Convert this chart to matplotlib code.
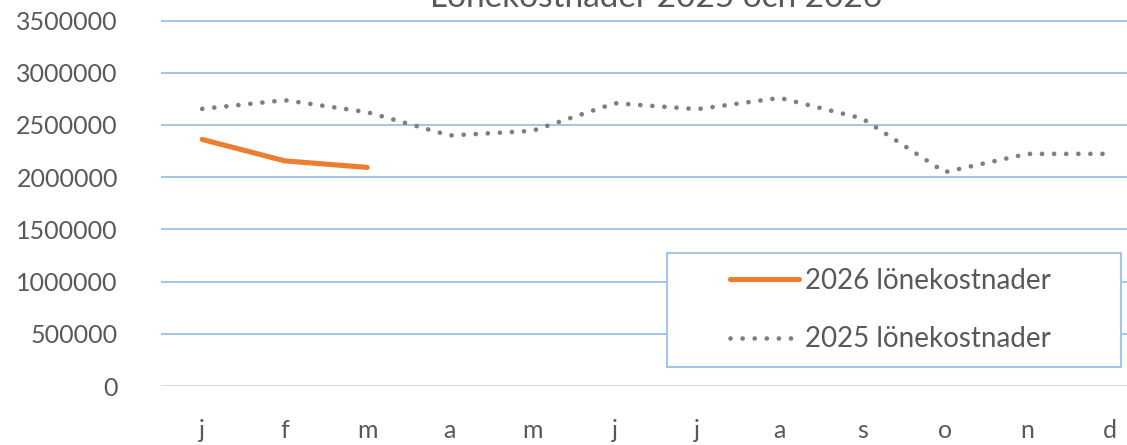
import matplotlib
matplotlib.use("Agg")
import matplotlib.pyplot as plt
from matplotlib.patches import Rectangle

plt.rcParams['font.family'] = ['Lato', 'DejaVu Sans']

months = ['j', 'f', 'm', 'a', 'm', 'j', 'j', 'a', 's', 'o', 'n', 'd']
cost_2026 = [2361000, 2156000, 2093000]
cost_2025 = [2654000, 2737000, 2622000, 2399000, 2443000, 2708000,
             2651000, 2759000, 2562000, 2048000, 2223000, 2223000]
yticks = [0, 500000, 1000000, 1500000, 2000000, 2500000, 3000000, 3500000]

W, H = 1127, 445
fig = plt.figure(figsize=(W / 100, H / 100), dpi=100)
# axes run a little past the right edge, as in the screenshot
ax = fig.add_axes([161 / W, (H - 386) / H, 990 / W, 365.5 / H])

txt = '#595959'
grid = '#A4C6E8'

x = list(range(len(months)))
ax.plot(x[:len(cost_2026)], cost_2026, color='#ED7D31', lw=3.7,
        solid_capstyle='round', solid_joinstyle='round', label='2026 lönekostnader', zorder=3)
ax.plot(x, cost_2025, color='#7F7F7F', lw=3.4, linestyle=(0, (0.01, 2.55)),
        dash_capstyle='round', label='2025 lönekostnader', zorder=3)

ax.set_xlim(-0.5, 11.5)
ax.set_ylim(0, 3500000)
ax.set_yticks(yticks)
ax.set_yticklabels([str(v) for v in yticks])
ax.set_xticks(x)
ax.set_xticklabels(months)
for y in yticks[1:]:
    ax.axhline(y, color=grid, lw=1.5, zorder=1)
ax.axhline(0, color='#D9D9D9', lw=1.5, zorder=1)
for s in ax.spines.values():
    s.set_visible(False)
ax.tick_params(axis='both', length=0, labelsize=18, colors=txt)
ax.tick_params(axis='y', pad=31)
ax.tick_params(axis='x', pad=24)

fig.text(656 / W, 1 - 7 / H, 'Lönekostnader 2025 och 2026', ha='center', va='baseline',
         fontsize=24, color=txt)

# legend box drawn separately so the entries can sit centred in it
ax.add_patch(Rectangle((667 / W, 1 - 367 / H), 454 / W, 114 / H,
                       transform=fig.transFigure, facecolor='white',
                       edgecolor=grid, lw=1.5, zorder=4, clip_on=False))
leg = ax.legend(loc='center', bbox_to_anchor=(890 / W, 1 - 310 / H),
                bbox_transform=fig.transFigure, fontsize=20, frameon=False,
                handlelength=2.5, handletextpad=0.2, labelspacing=1.17,
                borderpad=0, borderaxespad=0)
leg.set_zorder(5)
for t in leg.get_texts():
    t.set_color(txt)
for h in leg.get_lines():
    h.set_solid_capstyle('round')

fig.savefig('out.png', dpi=100)
